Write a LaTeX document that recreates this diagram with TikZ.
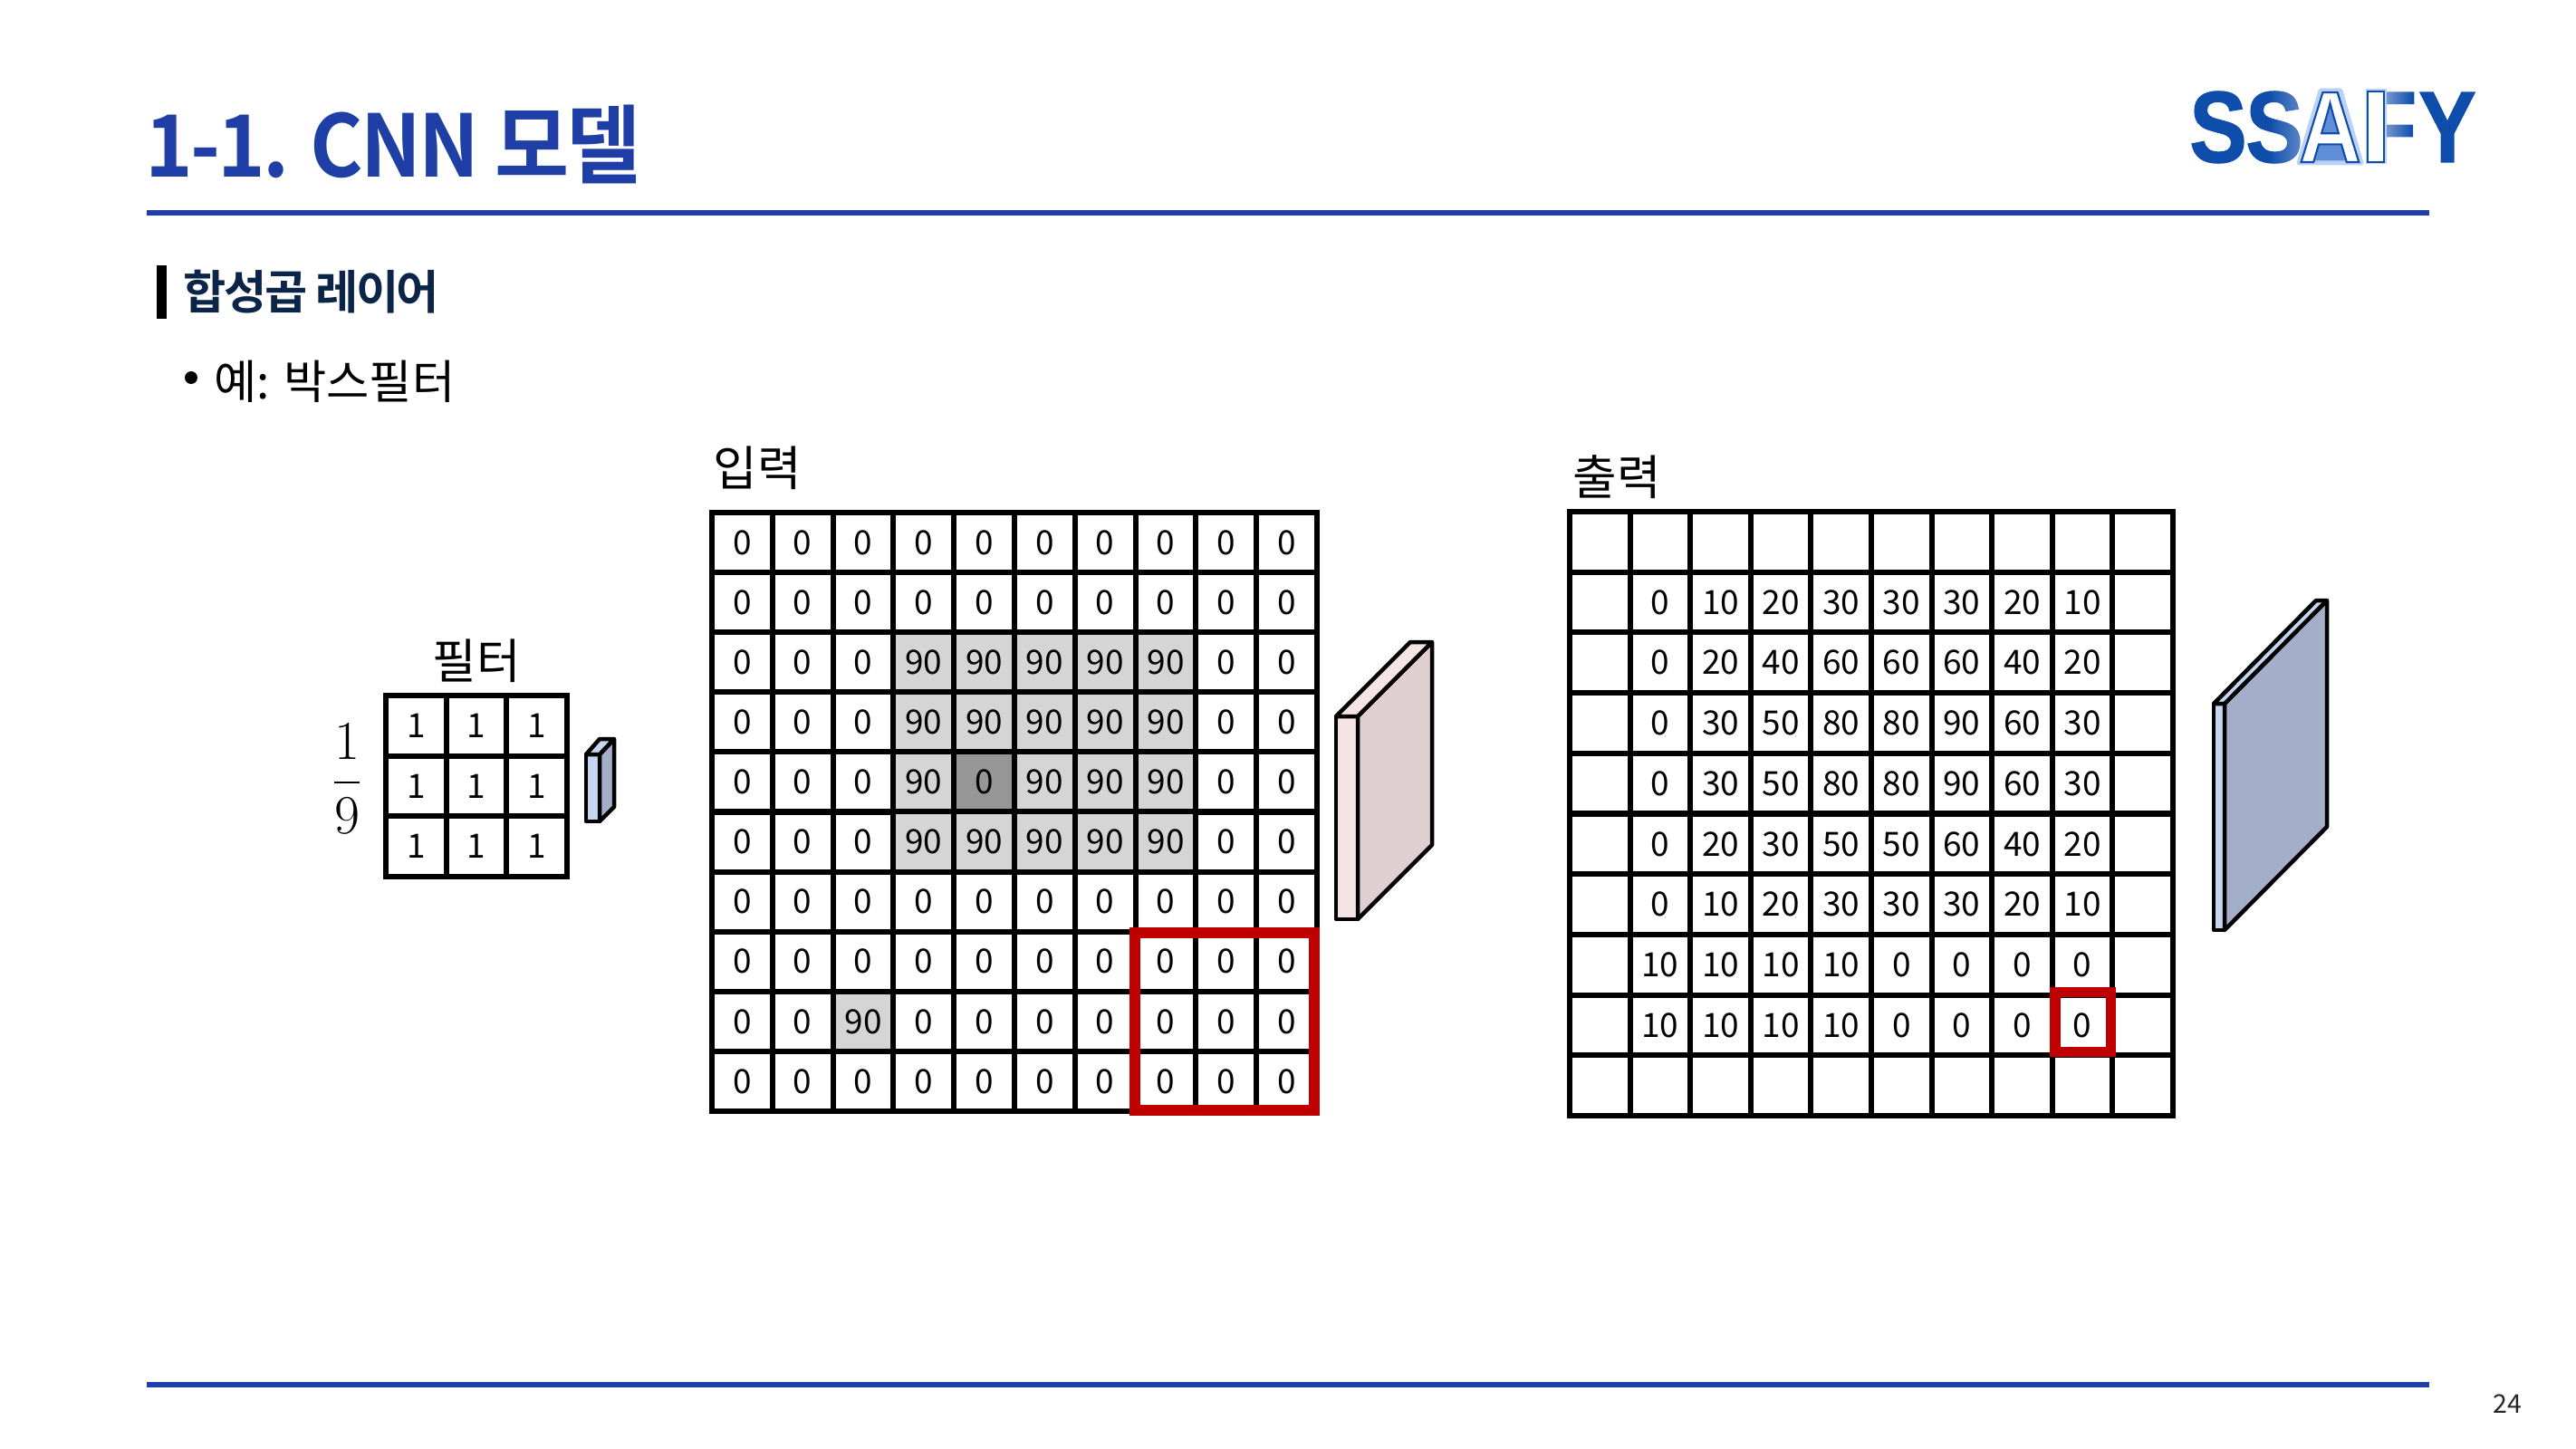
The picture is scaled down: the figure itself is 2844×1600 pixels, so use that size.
\documentclass[tikz,border=0pt]{standalone}
\usepackage{fontspec}
\usepackage{amsmath}
\usetikzlibrary{positioning,fadings}
\setmainfont{Noto Sans CJK KR}
\newfontfamily\titlefont{Noto Sans CJK KR Bold}[LetterSpace=-3,FakeStretch=0.94]
\newfontfamily\subfont{Noto Sans CJK KR Bold}[LetterSpace=-5]
\newfontfamily\logofont{Liberation Sans Bold}[FakeStretch=0.85,FakeBold=1.2]
\newfontfamily\logoafont{Liberation Sans Bold}[FakeStretch=0.85]
\definecolor{titleblue}{HTML}{1F3FA6}
\definecolor{subnavy}{HTML}{0B2447}
\definecolor{logoblue}{HTML}{0F4DAB}
\definecolor{logoglow}{HTML}{BCD2F4}
\definecolor{logomid}{HTML}{5F8DD6}
\definecolor{cellgray}{HTML}{D5D5D5}
\definecolor{celldark}{HTML}{969696}
\definecolor{boxred}{HTML}{C00000}
\definecolor{pinkfront}{HTML}{F5E4E4}
\definecolor{pinkside}{HTML}{E0CFD0}
\definecolor{bluefront}{HTML}{C6D6EF}
\definecolor{blueside}{HTML}{A3AFC8}

\begin{document}
\begin{tikzpicture}[x=0.01cm,y=-0.01cm,
    cell/.style = {draw, line width=0.06cm, inner sep=0, outer sep=0, font=\fontsize{10.5}{12}\selectfont},
    incell/.style = {cell, minimum width=0.668cm, minimum height=0.661cm},
    outcell/.style = {cell, minimum width=0.667cm, minimum height=0.666cm},
    filtcell/.style = {cell, minimum width=0.667cm, minimum height=0.667cm},
    val90/.style = {fill=cellgray},
    val00/.style = {fill=celldark},
    redbox/.style = {draw=boxred, line width=0.115cm, inner sep=0, outer sep=0},
    label/.style = {inner sep=0, anchor=west, font=\fontsize{15}{17}\selectfont},
    logo/.style = {inner sep=0, anchor=base, text=logoblue, font=\fontsize{31.8}{34}\logofont},
    slab/.style = {draw, line width=0.045cm, line join=round},
    rule/.style = {titleblue, line width=0.06cm}]
  \useasboundingbox (0,0) rectangle (2844,1600);

  % header
  \node[inner sep=0, anchor=base west, text=titleblue, font=\fontsize{27}{30}\titlefont] (title) at (160,196) {1-1. CNN 모델};
  \draw[rule] (162,235) -- (2682,235);
  \draw[rule] (162,1529) -- (2682,1529);
  \node[inner sep=0, text=black!85, font=\fontsize{8.1}{10}\selectfont] (page) at (2768,1550) {24};

  % logo
  \node[logo] (s1) at (2449,179) {S};
  \node[logo] (s2) at (2511,179) {S};
  \fill[white, opacity=0.35, path fading=west] (2505,98) rectangle (2543,183);
  \node[logo] (f) at (2639,179) {F};
  \fill[white, opacity=0.45, path fading=east] (2632,98) rectangle (2664,183);
  \node[logo] (y) at (2702,179) {Y};
  \draw[logoglow, fill=logomid, line width=0.05cm, line join=round] (2538,180) -- (2562,100) -- (2584,100) -- (2607,180) -- cycle;
  \node[inner sep=0, anchor=base, text=white, font=\fontsize{31.8}{34}\logoafont] (a) at (2572.5,179)
    {\special{pdf:code q 2 Tr 0.6 w 0.06 0.3 0.67 RG}A\special{pdf:code Q}};
  \draw[logoglow, line width=0.05cm] (2614,101) rectangle (2632,179);
  \draw[logoblue, fill=white, line width=0.02cm] (2614,101) rectangle (2632,179);

  % headings
  \fill[black] (173,293) rectangle (184,352);
  \node[inner sep=0, anchor=west, text=subnavy, font=\fontsize{14.6}{17}\subfont] (sub) at (202,322) {합성곱 레이어};
  \fill[black] (211,417) circle (7);
  \node[label, font=\fontsize{14.6}{17}\selectfont] (ex) at (236,421) {예: 박스필터};
  \node[label] (inlabel) at (787,517) {입력};
  \node[label] (outlabel) at (1736,527) {출력};
  \node[label] (filtlabel) at (477,730) {필터};

  % filter
  \foreach \r in {1,2,3}
    \foreach \c in {1,2,3}
      \node[filtcell] (fl-\r-\c) at ({426+66.7*(\c-.5)},{768+66.7*(\r-.5)}) {1};
  \node[inner sep=0, font=\fontsize{17}{20}\selectfont] (frac) at (383,860) {$\displaystyle\frac{1}{9}$};
  \draw[slab, fill=bluefront] (647,833) -- (662,833) -- (662,907) -- (647,907) -- cycle;
  \draw[slab, fill=blueside] (662,833) -- (678,816) -- (678,891) -- (662,907) -- cycle;
  \draw[slab, fill=bluefront] (647,833) -- (662,816) -- (678,816) -- (662,833) -- cycle;

  % input, 00 is the dark cell
  \foreach \rowvals [count=\r] in {
      {0,0,0,0,0,0,0,0,0,0},
      {0,0,0,0,0,0,0,0,0,0},
      {0,0,0,90,90,90,90,90,0,0},
      {0,0,0,90,90,90,90,90,0,0},
      {0,0,0,90,00,90,90,90,0,0},
      {0,0,0,90,90,90,90,90,0,0},
      {0,0,0,0,0,0,0,0,0,0},
      {0,0,0,0,0,0,0,0,0,0},
      {0,0,90,0,0,0,0,0,0,0},
      {0,0,0,0,0,0,0,0,0,0}}
    \foreach \v [count=\c] in \rowvals
      \node[incell, val\v/.try] (in-\r-\c) at ({786+66.8*(\c-.5)},{566+66.1*(\r-.5)}) {\number\v};
  \node[redbox, minimum width=1.98cm, minimum height=1.96cm] (inred) at (1352,1128) {};
  \draw[slab, fill=pinkfront] (1475,791) -- (1499,791) -- (1499,1015) -- (1475,1015) -- cycle;
  \draw[slab, fill=pinkside] (1499,791) -- (1581,709) -- (1581,933) -- (1499,1015) -- cycle;
  \draw[slab, fill=pinkfront] (1475,791) -- (1557,709) -- (1581,709) -- (1499,791) -- cycle;

  % output
  \foreach \rowvals [count=\r] in {
      {{},{},{},{},{},{},{},{},{},{}},
      {{},0,10,20,30,30,30,20,10,{}},
      {{},0,20,40,60,60,60,40,20,{}},
      {{},0,30,50,80,80,90,60,30,{}},
      {{},0,30,50,80,80,90,60,30,{}},
      {{},0,20,30,50,50,60,40,20,{}},
      {{},0,10,20,30,30,30,20,10,{}},
      {{},10,10,10,10,0,0,0,0,{}},
      {{},10,10,10,10,0,0,0,0,{}},
      {{},{},{},{},{},{},{},{},{},{}}}
    \foreach \v [count=\c] in \rowvals
      \node[outcell] (out-\r-\c) at ({1733+66.6*(\c-.5)},{565+66.7*(\r-.5)}) {\v};
  \node[redbox, minimum width=0.615cm, minimum height=0.66cm] (outred) at (2299.5,1128.5) {};
  \draw[slab, fill=bluefront] (2444,777) -- (2456,777) -- (2456,1027) -- (2444,1027) -- cycle;
  \draw[slab, fill=blueside] (2456,777) -- (2569,663) -- (2569,913) -- (2456,1027) -- cycle;
  \draw[slab, fill=bluefront] (2444,777) -- (2557,663) -- (2569,663) -- (2456,777) -- cycle;
\end{tikzpicture}
\end{document}
